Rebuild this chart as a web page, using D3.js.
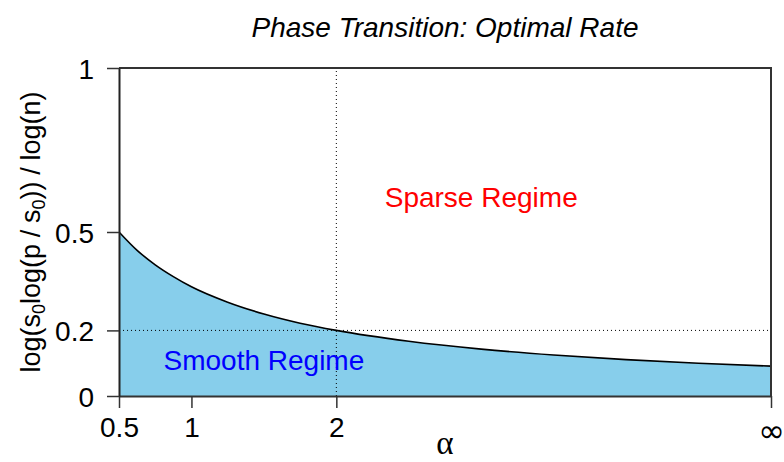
<!DOCTYPE html>
<html>
<head>
<meta charset="utf-8">
<script src="https://cdn.jsdelivr.net/npm/d3@7"></script>
<style>
  body { margin: 0; background: #fff; }
  text { font-family: "Liberation Sans", Arial, sans-serif; }
</style>
</head>
<body>
<div id="plot"></div>
<script>
// curve values (alpha, boundary rate)
var alphaVals = [0.5, 0.625, 0.75, 0.875, 1, 1.25, 1.5, 1.75, 2, 2.5, 3, 3.5, 4, 4.5, 5];
var rateVals = [0.5, 0.444, 0.4, 0.364, 0.333, 0.286, 0.25, 0.222, 0.2, 0.167, 0.143, 0.125, 0.111, 0.1, 0.091];

var xTicks = [0.5, 1, 2, 5];
var xTickLabels = ["0.5", "1", "2", "\u221E"];
var yTicks = [0, 0.2, 0.5, 1];
var yTickLabels = ["0", "0.2", "0.5", "1"];

var width = 784,
  height = 462;

var margin = { top: 68, right: 13, bottom: 66, left: 119 };

var x = d3.scaleLinear()
  .domain([0.5, 5])
  .range([margin.left, width - margin.right]);

var y = d3.scaleLinear()
  .domain([0, 1])
  .range([height - margin.bottom, margin.top]);

var svg = d3.select("#plot")
  .append("svg")
  .attr("width", width)
  .attr("height", height);

var pts = alphaVals.map(function(a, i) { return [a, rateVals[i]]; });

// smooth regime (filled area under the curve)
var area = d3.area()
  .x(function(d) { return x(d[0]); })
  .y0(y(0))
  .y1(function(d) { return y(d[1]); })
  .curve(d3.curveMonotoneX);

svg.append("path")
  .datum(pts)
  .attr("d", area)
  .style("fill", "#87CEEB");

var line = d3.line()
  .x(function(d) { return x(d[0]); })
  .y(function(d) { return y(d[1]); })
  .curve(d3.curveMonotoneX);

svg.append("path")
  .datum(pts)
  .attr("d", line)
  .style("fill", "none")
  .style("stroke", "#000")
  .style("stroke-width", 1.6);

// dotted reference lines
svg.append("line")
  .attr("x1", x(2)).attr("x2", x(2))
  .attr("y1", y(0)).attr("y2", y(1))
  .style("stroke", "#000")
  .style("stroke-width", 1)
  .style("stroke-dasharray", "1,3");

svg.append("line")
  .attr("x1", x(0.5)).attr("x2", x(5))
  .attr("y1", y(0.2)).attr("y2", y(0.2))
  .style("stroke", "#000")
  .style("stroke-width", 1)
  .style("stroke-dasharray", "1,3");

// box top and right
svg.append("path")
  .attr("d", "M" + x(0.5) + "," + y(1) + "H" + x(5) + "V" + y(0))
  .style("fill", "none")
  .style("stroke", "#333")
  .style("stroke-width", 2);

// axes
var xAxis = svg.append("g")
  .attr("transform", "translate(0," + y(0) + ")")
  .call(d3.axisBottom(x).tickValues(xTicks).tickSize(12).tickSizeOuter(0)
    .tickFormat(function(d, i) { return xTickLabels[i]; }));

xAxis.select(".domain").style("stroke", "#333").style("stroke-width", 2);
xAxis.selectAll(".tick line").style("stroke", "#333").style("stroke-width", 1.5);
xAxis.selectAll(".tick text")
  .attr("y", 0).attr("dy", null)
  .attr("transform", "translate(0,41)")
  .style("font-size", "28px")
  .style("fill", "#000");
xAxis.selectAll(".tick text").filter(function(d) { return d === 5; })
  .style("font-family", "'DejaVu Sans', sans-serif")
  .style("font-size", "32px")
  .attr("transform", "translate(0,46)");

var yAxis = svg.append("g")
  .attr("transform", "translate(" + x(0.5) + ",0)")
  .call(d3.axisLeft(y).tickValues(yTicks).tickSize(12).tickSizeOuter(0)
    .tickFormat(function(d, i) { return yTickLabels[i]; }));

yAxis.select(".domain").style("stroke", "#222").style("stroke-width", 2);
yAxis.selectAll(".tick line").style("stroke", "#333").style("stroke-width", 1.5);
yAxis.selectAll(".tick text")
  .attr("x", -25).attr("dy", "0.36em")
  .style("font-size", "28px")
  .style("fill", "#000");

// title
svg.append("text")
  .attr("x", (x(0.5) + x(5)) / 2)
  .attr("y", 37)
  .attr("text-anchor", "middle")
  .style("font-size", "28px")
  .style("font-style", "italic")
  .text("Phase Transition: Optimal Rate");

// axis titles
svg.append("text")
  .attr("x", (x(0.5) + x(5)) / 2)
  .attr("y", 454)
  .attr("text-anchor", "middle")
  .style("font-family", "'Liberation Serif', serif")
  .style("font-size", "33px")
  .text("\u03B1");

var ylab = svg.append("text")
  .attr("transform", "translate(40," + y(0.5) + ") rotate(-90)")
  .attr("text-anchor", "middle")
  .style("font-size", "27px");

ylab.append("tspan").text("log(s");
ylab.append("tspan").attr("dy", 5).style("font-size", "18px").text("0");
ylab.append("tspan").attr("dy", -5).text("log(p\u2005/\u2005s");
ylab.append("tspan").attr("dy", 5).style("font-size", "18px").text("0");
ylab.append("tspan").attr("dy", -5).text("))\u2005/\u2005log(n)");

// regime labels
svg.append("text")
  .attr("x", x(3))
  .attr("y", y(0.575))
  .attr("text-anchor", "middle")
  .style("font-size", "28px")
  .style("fill", "#FF0000")
  .text("Sparse Regime");

svg.append("text")
  .attr("x", x(1.5))
  .attr("y", y(0.08))
  .attr("text-anchor", "middle")
  .style("font-size", "28px")
  .style("fill", "#0000FF")
  .text("Smooth Regime");
</script>
</body>
</html>
